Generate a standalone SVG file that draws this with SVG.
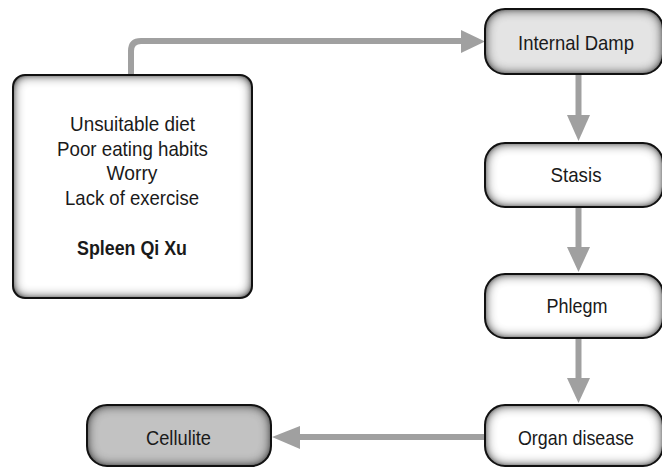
<svg xmlns="http://www.w3.org/2000/svg" width="662" height="469" viewBox="0 0 662 469">
<defs>
<style>
.t{font-family:"Liberation Sans",Arial,sans-serif;font-size:21px;fill:#1a1a1a;text-anchor:middle}
.b{font-weight:bold}
.edge{fill:none;stroke:#111;stroke-width:2}
.conn{fill:none;stroke:#a0a0a0;stroke-width:6}
.head{fill:#a0a0a0}
</style>
<filter id="shade" x="-5%" y="-5%" width="110%" height="110%">
<feGaussianBlur in="SourceAlpha" stdDeviation="6" result="blur"/>
<feComposite in="SourceAlpha" in2="blur" operator="out" result="edge"/>
<feComponentTransfer in="edge" result="edge2"><feFuncA type="linear" slope="1.7"/></feComponentTransfer>
<feFlood flood-color="#3a3a3a" flood-opacity="1"/>
<feComposite in2="edge2" operator="in" result="sh"/>
<feMerge><feMergeNode in="SourceGraphic"/><feMergeNode in="sh"/></feMerge>
</filter>
</defs>
<rect width="662" height="469" fill="#fff"/>
<g id="connectors">
<path class="conn" d="M131,75 V51 Q131,41 141,41 H462"/>
<polygon class="head" points="461,30 485,41.5 461,53"/>
<path class="conn" d="M578.5,74 V116"/>
<polygon class="head" points="567,115 590,115 578.5,141"/>
<path class="conn" d="M578.5,207 V248"/>
<polygon class="head" points="567,247 590,247 578.5,272"/>
<path class="conn" d="M578.5,338 V379"/>
<polygon class="head" points="567,378 590,378 578.5,403"/>
<path class="conn" d="M485,437 H299"/>
<polygon class="head" points="300,426 300,449 272,437"/>
</g>
<g id="causes">
<rect x="13" y="75" width="239" height="223" rx="12" fill="#fff" filter="url(#shade)"/>
<rect class="edge" x="13" y="75" width="239" height="223" rx="12"/>
<text class="t" x="132.5" y="131" textLength="125" lengthAdjust="spacingAndGlyphs">Unsuitable diet</text>
<text class="t" x="132.5" y="155.5" textLength="151" lengthAdjust="spacingAndGlyphs">Poor eating habits</text>
<text class="t" x="132" y="180" textLength="51" lengthAdjust="spacingAndGlyphs">Worry</text>
<text class="t" x="132" y="205" textLength="134" lengthAdjust="spacingAndGlyphs">Lack of exercise</text>
<text class="t b" x="132" y="255" textLength="110" lengthAdjust="spacingAndGlyphs">Spleen Qi Xu</text>
</g>
<g id="internal-damp">
<rect x="485" y="9" width="178" height="65" rx="20" fill="#e4e4e4" filter="url(#shade)"/>
<rect class="edge" x="485" y="9" width="178" height="65" rx="20"/>
<text class="t" x="576" y="50" textLength="116" lengthAdjust="spacingAndGlyphs">Internal Damp</text>
</g>
<g id="stasis">
<rect x="485" y="143" width="178" height="64" rx="20" fill="#fff" filter="url(#shade)"/>
<rect class="edge" x="485" y="143" width="178" height="64" rx="20"/>
<text class="t" x="576" y="182" textLength="51" lengthAdjust="spacingAndGlyphs">Stasis</text>
</g>
<g id="phlegm">
<rect x="485" y="274" width="178" height="64" rx="20" fill="#fff" filter="url(#shade)"/>
<rect class="edge" x="485" y="274" width="178" height="64" rx="20"/>
<text class="t" x="577" y="313" textLength="61" lengthAdjust="spacingAndGlyphs">Phlegm</text>
</g>
<g id="organ-disease">
<rect x="485" y="405" width="178" height="61" rx="20" fill="#fff" filter="url(#shade)"/>
<rect class="edge" x="485" y="405" width="178" height="61" rx="20"/>
<text class="t" x="576" y="445" textLength="116" lengthAdjust="spacingAndGlyphs">Organ disease</text>
</g>
<g id="cellulite">
<rect x="87" y="405" width="184" height="61" rx="20" fill="#c2c2c2" filter="url(#shade)"/>
<rect class="edge" x="87" y="405" width="184" height="61" rx="20"/>
<text class="t" x="178.5" y="445" textLength="65" lengthAdjust="spacingAndGlyphs">Cellulite</text>
</g>
</svg>
